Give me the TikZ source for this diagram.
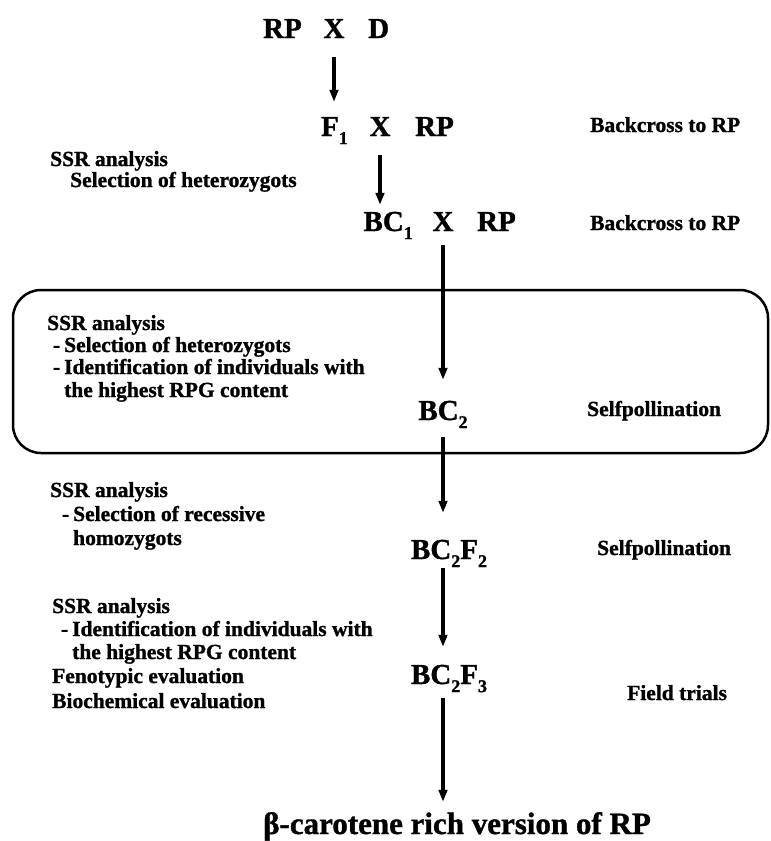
\documentclass[tikz,border=0pt]{standalone}
\usepackage{fontspec}
\setmainfont{Liberation Serif}[BoldFeatures={FakeBold=1.2}]
\usetikzlibrary{arrows.meta}
\newcommand{\mysub}[1]{\raisebox{-0.28em}{\fontsize{18pt}{18pt}\selectfont #1}}
\begin{document}
\begin{tikzpicture}[x=1pt,y=-1pt,
  big/.style={font=\fontsize{29pt}{29pt}\selectfont\bfseries, inner sep=0pt, text height=19pt, text depth=0pt, anchor=base},
  lbl/.style={font=\fontsize{21.5pt}{21.5pt}\selectfont\bfseries, inner sep=0pt, anchor=base west},
  arr/.style={line width=3.2pt, -{Triangle[length=12pt,width=8.5pt]}},
  frame/.style={line width=2.5pt, rounded corners=28pt}]
\useasboundingbox (0,0) rectangle (771,841);
\fill[white] (0,0) rectangle (771,841);

% main column
\node[big] (x1) at (334,38) {X};
\node[big, anchor=base east] (rp1) at (302,38) {RP};
\node[big, anchor=base west] (d1) at (368,38) {D};

\node[big] (x2) at (380,136) {X};
\node[big, anchor=base east] (f1) at (348,136) {F\mysub{1}};
\node[big, anchor=base west] (rp2) at (415,136) {RP};

\node[big] (x3) at (443,231) {X};
\node[big, anchor=base east] (bc1) at (413,231) {BC\mysub{1}};
\node[big, anchor=base west] (rp3) at (477,231) {RP};

\node[big] (bc2) at (443,420) {BC\mysub{2}};
\node[big] (bc22) at (449,559) {BC\mysub{2}F\mysub{2}};
\node[big] (bc23) at (449,684) {BC\mysub{2}F\mysub{3}};
\node[big, anchor=base west, font=\fontsize{31pt}{31pt}\selectfont\bfseries, text height=21pt] (beta) at (263,834) {β-carotene rich version of RP};

% box
\draw[frame] (13,290) rectangle (768,453);

% arrows
\draw[arr, shorten <=19pt, shorten >=15pt] (x1.south) -- (x1.south |- f1.north);
\draw[arr, shorten <=19pt, shorten >=7pt] (x2.south) -- (x2.south |- bc1.north);
\draw[arr, shorten <=14pt, shorten >=21pt] (x3.south) -- (x3.south |- bc2.north);
\draw[arr, shorten <=17pt, shorten >=27pt] (bc2.south) -- (bc2.south |- bc22.north);
\draw[arr, shorten <=9pt, shorten >=18pt] (bc2.south |- bc22.south) -- (bc2.south |- bc23.north);
\draw[arr, shorten <=14pt, shorten >=11pt] (bc2.south |- bc23.south) -- (bc2.south |- beta.north);

% left notes
\node[lbl] (s1a) at (50,166) {SSR analysis};
\node[lbl] (s1b) at (70,187) {Selection of heterozygots};

\node[lbl] (s2a) at (47,330) {SSR analysis};
\node[lbl] (s2b) at (64,352) {\llap{-\hspace{4pt}}Selection of heterozygots};
\node[lbl] (s2c) at (64,374) {\llap{-\hspace{4pt}}Identification of individuals with};
\node[lbl] (s2d) at (64,397) {the highest RPG content};

\node[lbl] (s3a) at (50,497) {SSR analysis};
\node[lbl] (s3b) at (73,521) {\llap{-\hspace{4pt}}Selection of recessive};
\node[lbl] (s3c) at (73,545) {homozygots};

\node[lbl] (s4a) at (52,613) {SSR analysis};
\node[lbl] (s4b) at (72,636) {\llap{-\hspace{4pt}}Identification of individuals with};
\node[lbl] (s4c) at (72,659) {the highest RPG content};
\node[lbl] (s4d) at (52,683) {Fenotypic evaluation};
\node[lbl] (s4e) at (52,708) {Biochemical evaluation};

% right notes
\node[lbl] (r1) at (590,132) {Backcross to RP};
\node[lbl] (r2) at (590,230) {Backcross to RP};
\node[lbl] (r3) at (587,416) {Selfpollination};
\node[lbl] (r4) at (597,555) {Selfpollination};
\node[lbl] (r5) at (627,700) {Field trials};
\end{tikzpicture}
\end{document}
